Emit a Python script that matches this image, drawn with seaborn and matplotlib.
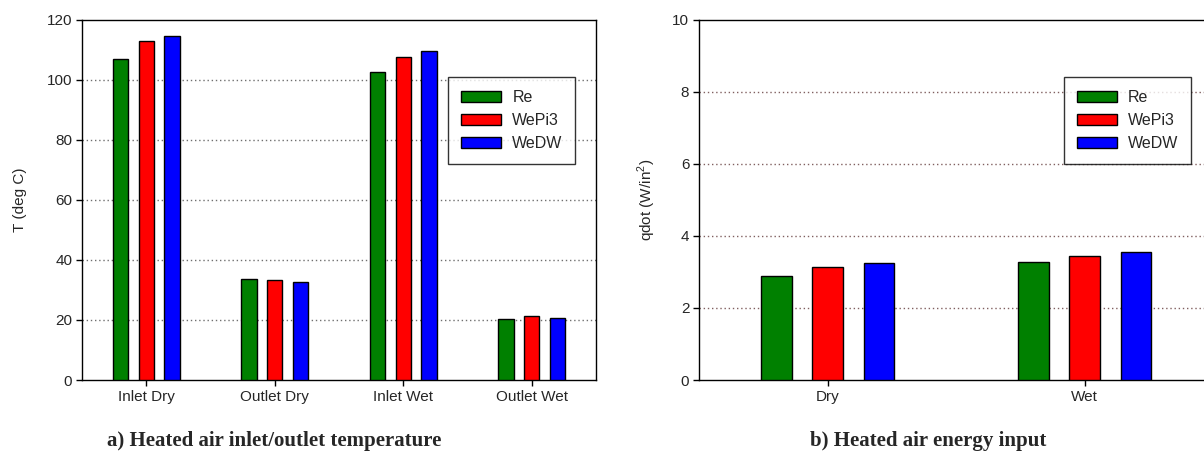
import pandas as pd
import matplotlib
matplotlib.use("Agg")
import matplotlib.pyplot as plt
import seaborn as sns

# data
series = ["Re", "WePi3", "WeDW"]
colors = ["#008000", "#ff0000", "#0000ff"]

temp_cats = ["Inlet Dry", "Outlet Dry", "Inlet Wet", "Outlet Wet"]
temp_re = [107.0, 33.7, 102.5, 20.3]
temp_wepi3 = [113.0, 33.4, 107.7, 21.2]
temp_wedw = [114.5, 32.5, 109.6, 20.5]

q_cats = ["Dry", "Wet"]
q_re = [2.90, 3.27]
q_wepi3 = [3.15, 3.43]
q_wedw = [3.25, 3.55]

sns.set_style("white")
plt.rcParams["font.family"] = ["Liberation Sans", "DejaVu Sans"]
plt.rcParams["mathtext.fontset"] = "custom"
plt.rcParams["mathtext.rm"] = "Liberation Sans"


def long_df(cats, vals):
    rows = []
    for name, v in zip(series, vals):
        for c, x in zip(cats, v):
            rows.append({"cat": c, "series": name, "val": x})
    return pd.DataFrame(rows)


df1 = long_df(temp_cats, [temp_re, temp_wepi3, temp_wedw])
df2 = long_df(q_cats, [q_re, q_wepi3, q_wedw])

fig = plt.figure(figsize=(12.04, 4.59), dpi=100)
ax1 = fig.add_axes([0.0681, 0.172, 0.4269, 0.785])
ax2 = fig.add_axes([0.5806, 0.172, 0.4269, 0.785])


def draw(ax, df, ymax, ystep, ylabel, leg_anchor, grid_color, pad):
    sns.barplot(data=df, x="cat", y="val", hue="series", palette=colors,
                width=0.6, gap=0.4, edgecolor="black", linewidth=1,
                saturation=1, errorbar=None, ax=ax, zorder=3)
    ax.set_ylim(0, ymax)
    ax.set_xlim(-0.5, len(df["cat"].unique()) - 0.5)
    ax.set_yticks([i * ystep for i in range(int(round(ymax / ystep)) + 1)])
    for y in ax.get_yticks()[1:-1]:
        ax.axhline(y, color=grid_color, lw=1, ls=(0, (1, 2)), zorder=1)
    ax.set_xlabel("")
    ax.set_ylabel(ylabel, fontsize=11, labelpad=pad)
    ax.tick_params(axis="both", labelsize=11, direction="out", length=4,
                   width=1, color="black", left=True, bottom=True, pad=3)
    for s in ax.spines.values():
        s.set_color("black")
        s.set_linewidth(1)
    h, l = ax.get_legend_handles_labels()
    ax.legend(h, l, loc="upper right", bbox_to_anchor=leg_anchor,
              fontsize=11.5, frameon=True, fancybox=False, edgecolor="black",
              handlelength=2.5, handleheight=0.72, borderpad=0.8,
              labelspacing=0.5, handletextpad=0.7, borderaxespad=0)


draw(ax1, df1, 120, 20, "T (deg C)", (0.96, 0.84), "#707070", 14)
draw(ax2, df2, 10, 2, "qdot (W/in$^2$)", (0.957, 0.84), "#806060", 10)

fig.text(0.228, 0.04, "a) Heated air inlet/outlet temperature", ha="center",
         va="center", fontsize=15, fontweight="bold", family="Liberation Serif")
fig.text(0.771, 0.04, "b) Heated air energy input", ha="center",
         va="center", fontsize=15, fontweight="bold", family="Liberation Serif")

fig.savefig("out.png", dpi=100)
